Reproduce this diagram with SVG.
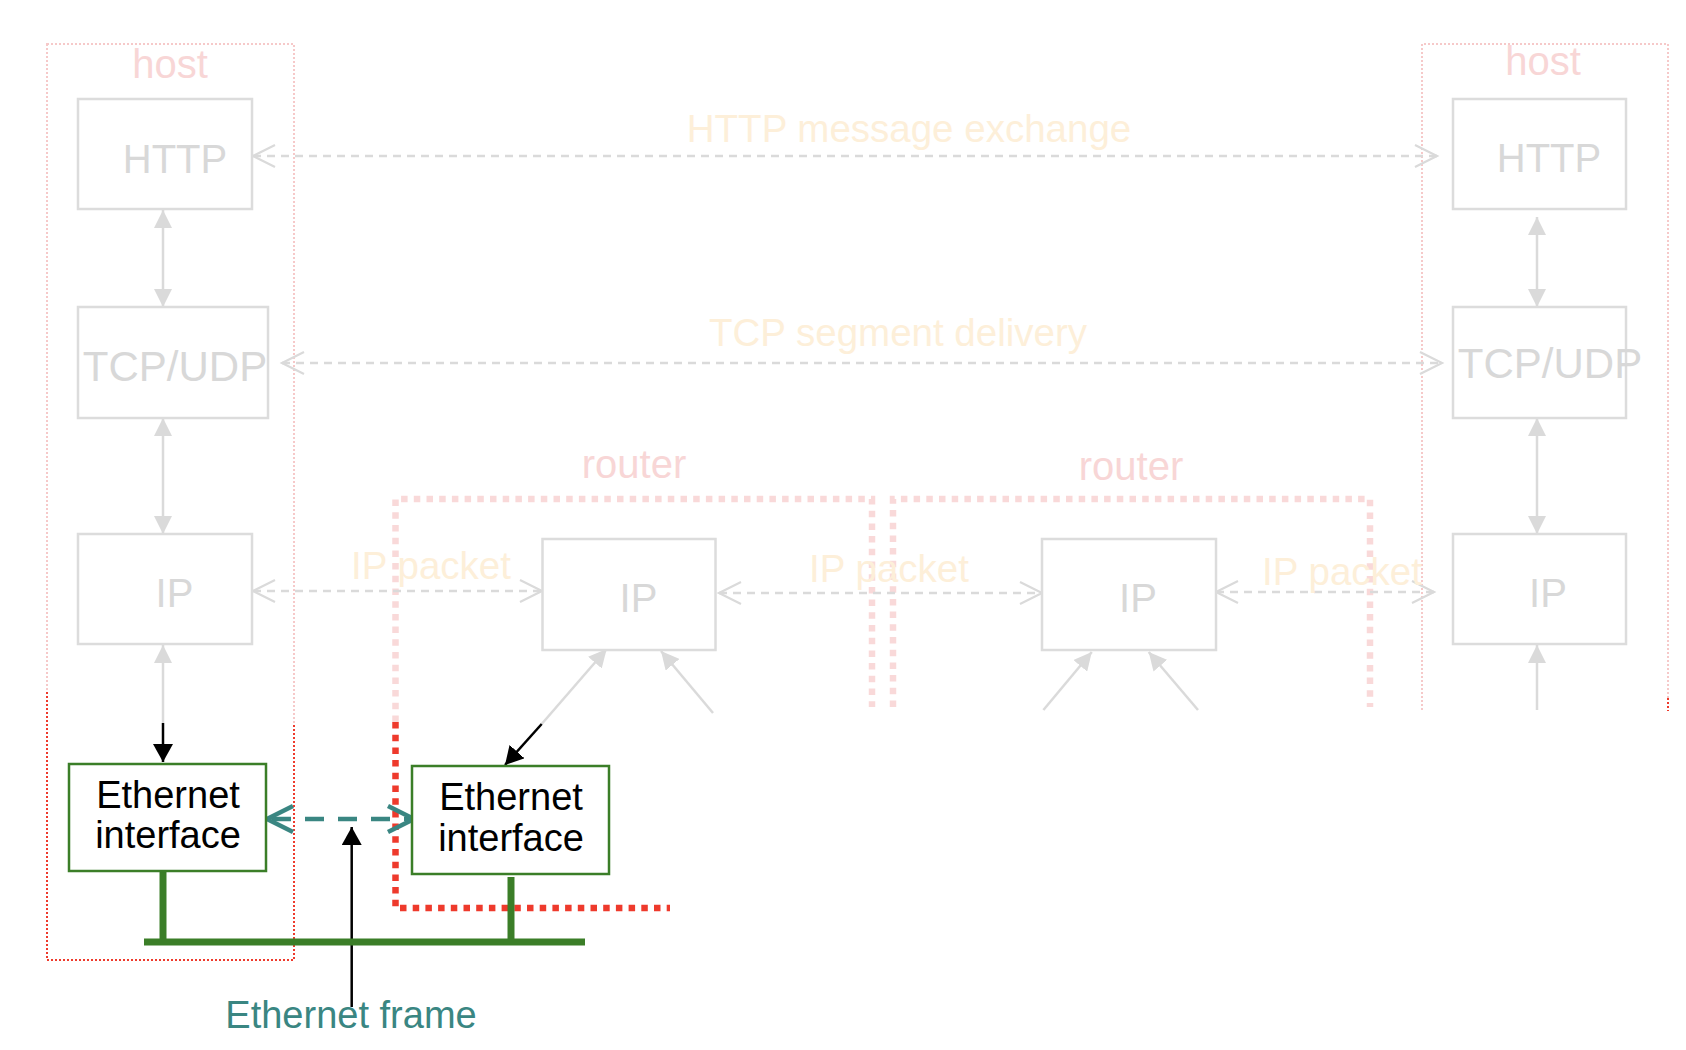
<svg xmlns="http://www.w3.org/2000/svg" width="1686" height="1050" viewBox="0 0 1686 1050">
<style>
  text { font-family: "Liberation Sans", Arial, sans-serif; text-anchor: middle; }
  .box { fill: #ffffff; stroke: #dcdcdc; stroke-width: 2.5; }
  .lbl { fill: #d8d8d8; font-size: 40px; }
  .grp { fill: #f8d6d6; font-size: 40px; }
  .msg { fill: #fdefd9; font-size: 38.5px; }
  .eth { fill: #ffffff; stroke: #3b7e28; stroke-width: 2.5; }
  .ethtxt { fill: #000000; font-size: 38px; }
  .hostpink { fill: none; stroke: #f6c9c9; stroke-width: 2; stroke-dasharray: 2 2; }
  .hostred { fill: none; stroke: #ee3a2c; stroke-width: 2; stroke-dasharray: 2 2; }
  .rtpink { fill: none; stroke: #f9d9d9; stroke-width: 6.5; stroke-dasharray: 6.5 6.2; }
  .rtred { fill: none; stroke: #ee3a2c; stroke-width: 6.5; stroke-dasharray: 6.5 6.2; }
  .gv { fill: none; stroke: #dadada; stroke-width: 2.5; }
  .gd { fill: none; stroke: #dadada; stroke-width: 2.5; stroke-dasharray: 8 6; }
  .blk { fill: none; stroke: #000000; stroke-width: 2.5; }
  .grn { fill: none; stroke: #3b7e28; stroke-width: 7; }
</style>
<defs>
  <marker id="triG" viewBox="0 0 18 18" markerWidth="18" markerHeight="18" refX="18" refY="9" orient="auto-start-reverse" markerUnits="userSpaceOnUse">
    <path d="M0,0 L18,9 L0,18 z" fill="#dadada"/>
  </marker>
  <marker id="triK" viewBox="0 0 18 20" markerWidth="18" markerHeight="20" refX="18" refY="10" orient="auto-start-reverse" markerUnits="userSpaceOnUse">
    <path d="M0,0 L18,10 L0,20 z" fill="#000000"/>
  </marker>
  <marker id="chevG" viewBox="-2 -2 26 26" markerWidth="26" markerHeight="26" refX="22" refY="11" orient="auto-start-reverse" markerUnits="userSpaceOnUse" overflow="visible">
    <path d="M0,0 L22,11 L0,22" fill="none" stroke="#dadada" stroke-width="2.2"/>
  </marker>
  <marker id="chevT" viewBox="-4 -4 34 34" markerWidth="34" markerHeight="34" refX="26" refY="13" orient="auto-start-reverse" markerUnits="userSpaceOnUse" overflow="visible">
    <path d="M0,0 L26,13 L0,26" fill="none" stroke="#3a8682" stroke-width="4.5"/>
  </marker>
</defs>

<!-- group containers -->
<g id="host1">
  <rect class="hostpink" x="47" y="44" width="247" height="916"/>
  <path class="hostred" d="M47,692 V960 H294 V723"/>
  <text class="grp" x="170" y="78">host</text>
</g>
<g id="host2">
  <path class="hostpink" d="M1422,710 V44 H1668 V698"/>
  <path class="hostred" d="M1668,698 V711"/>
  <text class="grp" x="1543" y="75">host</text>
</g>
<g id="router1">
  <path class="rtpink" d="M395.5,722 V499 H872 V707"/>
  <path class="rtred" d="M395.5,722 V908 H670"/>
  <text class="grp" x="634" y="478">router</text>
</g>
<g id="router2">
  <path class="rtpink" d="M893,707 V499 H1370 V707"/>
  <text class="grp" x="1131" y="480">router</text>
</g>

<!-- connectors -->
<g id="connectors">
  <line class="gv" x1="163" y1="210" x2="163" y2="307" marker-start="url(#triG)" marker-end="url(#triG)"/>
  <line class="gv" x1="163" y1="418" x2="163" y2="534" marker-start="url(#triG)" marker-end="url(#triG)"/>
  <line class="gv" x1="163" y1="723" x2="163" y2="645" marker-end="url(#triG)"/>
  <line class="blk" x1="163" y1="723" x2="163" y2="762" marker-end="url(#triK)"/>

  <line class="gv" x1="1537" y1="217" x2="1537" y2="307" marker-start="url(#triG)" marker-end="url(#triG)"/>
  <line class="gv" x1="1537" y1="418" x2="1537" y2="534" marker-start="url(#triG)" marker-end="url(#triG)"/>
  <line class="gv" x1="1537" y1="710" x2="1537" y2="645" marker-end="url(#triG)"/>

  <line class="gv" x1="541.7" y1="724" x2="606.7" y2="649" marker-end="url(#triG)"/>
  <line class="blk" x1="541.7" y1="724" x2="505" y2="765" marker-end="url(#triK)"/>
  <line class="gv" x1="713" y1="713" x2="661" y2="651" marker-end="url(#triG)"/>
  <line class="gv" x1="1043.4" y1="710" x2="1091.8" y2="652" marker-end="url(#triG)"/>
  <line class="gv" x1="1198" y1="710" x2="1148.7" y2="652" marker-end="url(#triG)"/>

  <line class="gd" x1="253" y1="156" x2="1437" y2="156" marker-start="url(#chevG)" marker-end="url(#chevG)"/>
  <line class="gd" x1="282" y1="363" x2="1442" y2="363" marker-start="url(#chevG)" marker-end="url(#chevG)"/>
  <line class="gd" x1="253" y1="591" x2="542" y2="591" marker-start="url(#chevG)" marker-end="url(#chevG)"/>
  <line class="gd" x1="719" y1="593" x2="1042" y2="593" marker-start="url(#chevG)" marker-end="url(#chevG)"/>
  <line class="gd" x1="1216" y1="592" x2="1434" y2="592" marker-start="url(#chevG)" marker-end="url(#chevG)"/>

  <line x1="267" y1="819" x2="414" y2="819" fill="none" stroke="#3a8682" stroke-width="4.5" stroke-dasharray="19 14" stroke-dashoffset="-5" marker-start="url(#chevT)" marker-end="url(#chevT)"/>
  <line class="blk" x1="351.7" y1="1007" x2="351.7" y2="827" marker-end="url(#triK)"/>

  <line class="grn" x1="163" y1="871" x2="163" y2="942"/>
  <line class="grn" x1="511" y1="877" x2="511" y2="942"/>
  <line class="grn" x1="144" y1="942" x2="585" y2="942"/>
</g>

<!-- message labels -->
<g id="labels">
  <text class="msg" x="909" y="142">HTTP message exchange</text>
  <text class="msg" x="898" y="346">TCP segment delivery</text>
  <text class="msg" x="431" y="579">IP packet</text>
  <text class="msg" x="889" y="582">IP packet</text>
  <text class="msg" x="1342" y="585">IP packet</text>
  <text x="351" y="1028" style="fill:#3a8682;font-size:38px">Ethernet frame</text>
</g>

<!-- nodes -->
<g id="http1"><rect class="box" x="78" y="99" width="174" height="110"/><text class="lbl" x="175" y="173">HTTP</text></g>
<g id="tcp1"><rect class="box" x="78" y="307" width="190" height="111"/><text class="lbl" x="175" y="381" style="font-size:42px">TCP/UDP</text></g>
<g id="ip1"><rect class="box" x="78" y="534" width="174" height="110"/><text class="lbl" x="174.5" y="607">IP</text></g>
<g id="http2"><rect class="box" x="1453" y="99" width="173" height="110"/><text class="lbl" x="1549" y="172">HTTP</text></g>
<g id="tcp2"><rect class="box" x="1453" y="307" width="173" height="111"/><text class="lbl" x="1550" y="378" style="font-size:42px">TCP/UDP</text></g>
<g id="ip2"><rect class="box" x="1453" y="534" width="173" height="110"/><text class="lbl" x="1548" y="607">IP</text></g>
<g id="ipr1"><rect class="box" x="542.5" y="539" width="173" height="111"/><text class="lbl" x="638.5" y="612">IP</text></g>
<g id="ipr2"><rect class="box" x="1042" y="539" width="174" height="111"/><text class="lbl" x="1138" y="612">IP</text></g>
<g id="eth1"><rect class="eth" x="69" y="764" width="197" height="107"/><text class="ethtxt" x="168" y="808">Ethernet</text><text class="ethtxt" x="168" y="848">interface</text></g>
<g id="eth2"><rect class="eth" x="412" y="766" width="197" height="108"/><text class="ethtxt" x="511" y="810">Ethernet</text><text class="ethtxt" x="511" y="851">interface</text></g>
</svg>
